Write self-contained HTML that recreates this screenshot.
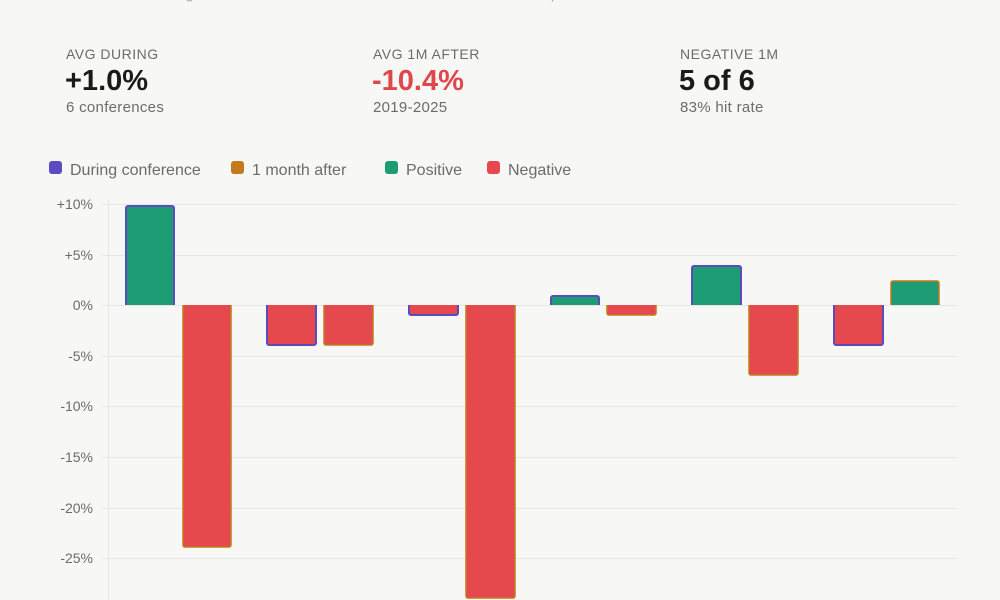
<!DOCTYPE html>
<html><head><meta charset="utf-8"><style>
html,body{margin:0;padding:0;background:#f7f7f5;width:1000px;height:600px;overflow:hidden;font-family:"Liberation Sans",sans-serif}
.k{position:absolute;font-size:14px;color:#6b6b6b;letter-spacing:.5px}
.v{position:absolute;font-size:29px;font-weight:bold;color:#1a1a1a}
.s{position:absolute;font-size:15px;color:#6b6b6b;letter-spacing:.3px}
</style></head><body>
<div style="position:absolute;left:66px;top:-15px;font-size:16px;color:#aaa">Over the following month the market declined after each conference period</div>
<div class="k" style="left:66px;top:46px">AVG DURING</div>
<div class="v" style="left:65px;top:65px">+1.0%</div>
<div class="s" style="left:66px;top:99px">6 conferences</div>
<div class="k" style="left:373px;top:46px">AVG 1M AFTER</div>
<div class="v" style="left:372px;top:65px;color:#e0474c">-10.4%</div>
<div class="s" style="left:373px;top:99px">2019-2025</div>
<div class="k" style="left:680px;top:46px">NEGATIVE 1M</div>
<div class="v" style="left:679px;top:65px">5 of 6</div>
<div class="s" style="left:680px;top:99px">83% hit rate</div>
<svg width="1000" height="600" style="position:absolute;left:0;top:0" font-family="Liberation Sans, sans-serif">
<g font-size="16" fill="#6b6b6b">
<rect x="49" y="161" width="13" height="13" rx="3" fill="#5b4bc0"/><text x="70" y="175">During conference</text>
<rect x="231" y="161" width="13" height="13" rx="3" fill="#c27a1c"/><text x="252" y="175">1 month after</text>
<rect x="385" y="161" width="13" height="13" rx="3" fill="#1e9c74"/><text x="406" y="175">Positive</text>
<rect x="487" y="161" width="13" height="13" rx="3" fill="#e5484d"/><text x="508" y="175">Negative</text>
</g>
<g stroke="#e6e6e4" stroke-width="1">
<line x1="102" x2="957" y1="204.5" y2="204.5"/><line x1="102" x2="957" y1="255.5" y2="255.5"/><line x1="102" x2="957" y1="305.5" y2="305.5"/><line x1="102" x2="957" y1="356.5" y2="356.5"/><line x1="102" x2="957" y1="406.5" y2="406.5"/><line x1="102" x2="957" y1="457.5" y2="457.5"/><line x1="102" x2="957" y1="508.5" y2="508.5"/><line x1="102" x2="957" y1="558.5" y2="558.5"/>
<line x1="108.5" x2="108.5" y1="200" y2="600"/>
</g>
<g font-size="14" fill="#6b6b6b" text-anchor="end">
<text x="93" y="209">+10%</text><text x="93" y="260">+5%</text><text x="93" y="310">0%</text><text x="93" y="361">-5%</text><text x="93" y="411">-10%</text><text x="93" y="462">-15%</text><text x="93" y="513">-20%</text><text x="93" y="563">-25%</text>
</g>
<g stroke-width="2">
<path d="M126,305 V208 a2,2 0 0 1 2,-2 H172 a2,2 0 0 1 2,2 V305" fill="#1e9c74" stroke="#5b4bc0"/>
<path d="M183,305 V545 a2,2 0 0 0 2,2 H229 a2,2 0 0 0 2,-2 V305" fill="#e5484d" stroke="#c27a1c" stroke-width="1.5"/>
<path d="M267,305 V343 a2,2 0 0 0 2,2 H314 a2,2 0 0 0 2,-2 V305" fill="#e5484d" stroke="#5b4bc0"/>
<path d="M324,305 V343 a2,2 0 0 0 2,2 H371 a2,2 0 0 0 2,-2 V305" fill="#e5484d" stroke="#c27a1c" stroke-width="1.5"/>
<path d="M409,305 V313 a2,2 0 0 0 2,2 H456 a2,2 0 0 0 2,-2 V305" fill="#e5484d" stroke="#5b4bc0"/>
<path d="M466,305 V596 a2,2 0 0 0 2,2 H513 a2,2 0 0 0 2,-2 V305" fill="#e5484d" stroke="#c27a1c" stroke-width="1.5"/>
<path d="M551,305 V298 a2,2 0 0 1 2,-2 H597 a2,2 0 0 1 2,2 V305" fill="#1e9c74" stroke="#5b4bc0"/>
<path d="M607,305 V313 a2,2 0 0 0 2,2 H654 a2,2 0 0 0 2,-2 V305" fill="#e5484d" stroke="#c27a1c" stroke-width="1.5"/>
<path d="M692,305 V268 a2,2 0 0 1 2,-2 H739 a2,2 0 0 1 2,2 V305" fill="#1e9c74" stroke="#5b4bc0"/>
<path d="M749,305 V373 a2,2 0 0 0 2,2 H796 a2,2 0 0 0 2,-2 V305" fill="#e5484d" stroke="#c27a1c" stroke-width="1.5"/>
<path d="M834,305 V343 a2,2 0 0 0 2,2 H881 a2,2 0 0 0 2,-2 V305" fill="#e5484d" stroke="#5b4bc0"/>
<path d="M891,305 V283 a2,2 0 0 1 2,-2 H937 a2,2 0 0 1 2,2 V305" fill="#1e9c74" stroke="#c27a1c" stroke-width="1.5"/>
</g>
</svg>
</body></html>
